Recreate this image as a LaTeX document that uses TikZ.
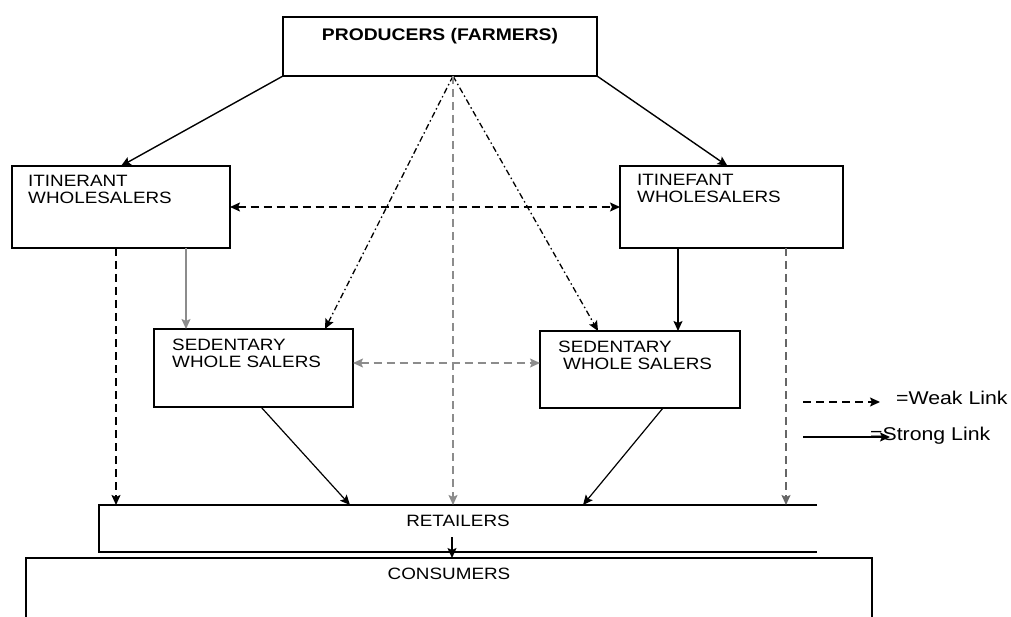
\documentclass[tikz,border=0pt]{standalone}
\usepackage{fontspec}
\setmainfont{Liberation Sans}[FakeStretch=1.15]
\usetikzlibrary{arrows.meta}

\begin{document}
\begin{tikzpicture}[x=1pt,y=-1pt,>={Stealth[length=10pt,width=9pt,inset=2pt]},
	box/.style={draw,line width=1.7pt,inner sep=0pt,outer sep=0pt},
	lbl/.style={inner sep=0pt,align=left,font=\fontsize{16.4}{17}\selectfont},
	strong/.style={->,line width=1.4pt},
	weak/.style={->,line width=1.5pt,dash pattern=on 8pt off 5pt},
	weakdot/.style={->,line width=1.3pt,dash pattern=on 6pt off 3pt on 1.5pt off 3pt},
	faint/.style={draw=black!45}]
	\path[use as bounding box] (0,0) rectangle (1011,617);
	\clip (0,0) rectangle (1011,617);
	
	\node[box, minimum width=314, minimum height=59,
		label={[lbl, anchor=north, yshift=-11, font=\fontsize{16.8}{17}\selectfont\bfseries]north:{PRODUCERS (FARMERS)}}] (prod) at (440,46.5) {};
	\node[box, minimum width=218, minimum height=82,
		label={[lbl, anchor=north west, xshift=16, yshift=-9]north west:{ITINERANT\\WHOLESALERS}}] (itL) at (121,207) {};
	\node[box, minimum width=223, minimum height=82,
		label={[lbl, anchor=north west, xshift=17, yshift=-8]north west:{ITINEFANT\\WHOLESALERS}}] (itR) at (731.5,207) {};
	\node[box, minimum width=199, minimum height=78,
		label={[lbl, anchor=north west, xshift=18, yshift=-10]north west:{SEDENTARY\\WHOLE SALERS}}] (sdL) at (253.5,368) {};
	\node[box, minimum width=200, minimum height=77,
		label={[lbl, anchor=north west, xshift=18, yshift=-10]north west:{SEDENTARY\\\hspace*{5pt}WHOLE SALERS}}] (sdR) at (640,369.5) {};
	\node[box, draw=none, minimum width=718, minimum height=47,
		label={[lbl, anchor=north, yshift=-10]north:{RETAILERS}}] (ret) at (458,528.5) {};
	\draw[line width=1.7pt] (ret.north east) -- (ret.north west) -- (ret.south west) -- (ret.south east);
	\node[box, minimum width=846, minimum height=102,
		label={[lbl, anchor=north, yshift=-10]north:{CONSUMERS}}] (con) at (449,609) {};
	
	% producers
	\coordinate (pf) at ([xshift=13]prod.south);
	\draw[strong] (prod.south west) -- (itL.north);
	\draw[strong] (prod.south east) -- ([xshift=-4]itR.north);
	\draw[weakdot] (pf) -- ([xshift=-28]sdL.north east);
	\draw[weakdot] (pf) -- ([xshift=58]sdR.north west);
	\draw[weak, faint] (pf) -- (pf |- ret.north);
	
	% itinerant
	\draw[weak, <->] (itL.east) -- (itR.west);
	\draw[weak] ([xshift=-5]itL.south) -- ([xshift=-5]itL.south |- ret.north);
	\draw[strong, faint] ([xshift=65]itL.south) -- ([xshift=65]itL.south |- sdL.north);
	\draw[strong] ([xshift=-53.5]itR.south) -- ([xshift=-53.5]itR.south |- sdR.north);
	\draw[weak, draw=black!60] ([xshift=54.5]itR.south) -- ([xshift=54.5]itR.south |- ret.north);
	
	% sedentary
	\draw[weak, faint, <->] ([yshift=5]sdL.east) -- ([yshift=5]sdL.east -| sdR.west);
	\draw[strong, line width=1.2pt] ([xshift=7.5]sdL.south) -- ([xshift=-108]ret.north);
	\draw[strong, line width=1.2pt] ([xshift=23]sdR.south) -- ([xshift=125]ret.north);
	
	% retailers
	\coordinate (rc) at ([xshift=-6,yshift=-8.5]ret.center);
	\draw[strong] (rc) -- (rc |- con.north);
	
	% legend
	\coordinate (wk1) at (803,402);
	\coordinate (wk2) at (880,402);
	\coordinate (st1) at (803,437);
	\coordinate (st2) at (890,437);
	\draw[weak] (wk1) -- (wk2);
	\draw[strong] (st1) -- (st2);
	\node[lbl, anchor=west, font=\fontsize{18.5}{20}\selectfont] (wkl) at (896,398) {=Weak Link};
	\node[lbl, anchor=west, font=\fontsize{18.5}{20}\selectfont] (stl) at (870,436) {=Strong Link};
\end{tikzpicture}
\end{document}
